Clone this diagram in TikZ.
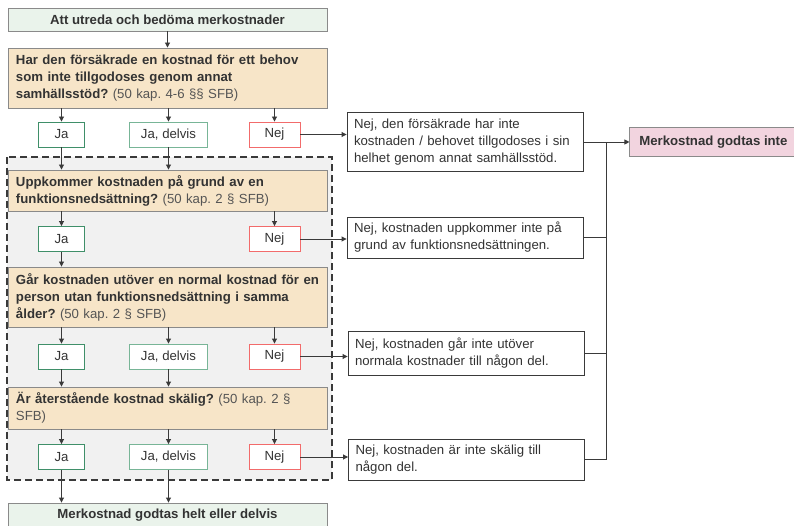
\documentclass[tikz,border=0pt]{standalone}
\usepackage{fontspec}
\setmainfont{Liberation Sans}
\usetikzlibrary{arrows.meta,positioning}

\definecolor{linegray}{HTML}{3A3A3A}
\definecolor{boxgray}{HTML}{8A8A8A}
\definecolor{txtgray}{HTML}{333333}
\definecolor{refgray}{HTML}{555555}
\definecolor{headgreen}{HTML}{EAF3EB}
\definecolor{askfill}{HTML}{F7E5C8}
\definecolor{jagreen}{HTML}{3F8F69}
\definecolor{delgreen}{HTML}{78B597}
\definecolor{nejred}{HTML}{F26B6B}
\definecolor{areagray}{HTML}{F1F1F1}
\definecolor{nopink}{HTML}{F2D4DF}

\frenchspacing
\newcommand{\boxfont}{\fontsize{13.2}{17}\selectfont}
\newcommand{\lagref}[1]{{\mdseries\color{refgray}#1}}

\begin{document}
\begin{tikzpicture}[
    x = 1pt, y = -1pt, % pixel grid, y goes down
    > = {Triangle[length=5pt,width=5pt]}, % arrow head style
    semithick % line style
    ]

    \tikzset{
    base/.style = {draw=boxgray, line width=0.9pt, inner sep=0pt, text=txtgray, font=\boxfont},
    headbox/.style = {base, fill=headgreen, minimum width=319pt, minimum height=23pt, font=\boxfont\bfseries},
    askbox/.style = {base, fill=askfill, text width=303pt, inner xsep=8pt, align=left, font=\boxfont\bfseries},
    jabox/.style = {base, draw=jagreen, fill=white, minimum width=46pt, minimum height=25pt},
    delbox/.style = {base, draw=delgreen, fill=white, minimum width=78pt, minimum height=25pt},
    nejbox/.style = {base, draw=nejred, fill=white, minimum width=51pt, minimum height=25pt},
    infobox/.style = {base, draw=linegray, fill=white, text width=222pt, inner xsep=7pt, align=left},
    stopbox/.style = {base, fill=nopink, minimum width=167pt, minimum height=29pt, font=\boxfont\bfseries},
    arr/.style = {->, draw=linegray, line width=0.9pt}
    }
    \useasboundingbox (0,0) rectangle (794,526);

    % area of the follow-up questions
    \draw[dash pattern=on 7pt off 4pt, line width=1.4pt, draw=linegray, fill=areagray] (7,157) rectangle (332,480);

    \node[headbox] (start) at (167.5,19.5) {Att utreda och bedöma merkostnader};
    \node[askbox, minimum height=60pt] (q1) at (167.5,78) {Har den försäkrade en kostnad för ett behov\\som inte tillgodoses genom annat\\samhällsstöd? \lagref{(50 kap. 4-6 §§ SFB)}};
    \node[jabox] (ja1) at (61.5,134.5) {Ja};
    \node[delbox] (del1) at (168.5,134.5) {Ja, delvis};
    \node[nejbox] (nej1) at (274.5,134.5) {Nej};

    \node[askbox, minimum height=41pt] (q2) at (167.5,190.5) {Uppkommer kostnaden på grund av en\\funktionsnedsättning? \lagref{(50 kap. 2 § SFB)}};
    \node[jabox] (ja2) at (61.5,239) {Ja};
    \node[nejbox] (nej2) at (274.5,239) {Nej};

    \node[askbox, minimum height=60pt] (q3) at (167.5,297) {Går kostnaden utöver en normal kostnad för en\\person utan funktionsnedsättning i samma\\ålder? \lagref{(50 kap. 2 § SFB)}};
    \node[jabox] (ja3) at (61.5,356.5) {Ja};
    \node[delbox] (del3) at (168.5,356.5) {Ja, delvis};
    \node[nejbox] (nej3) at (274.5,356.5) {Nej};

    \node[askbox, minimum height=42pt] (q4) at (167.5,408) {Är återstående kostnad skälig? \lagref{(50 kap. 2 §\\SFB)}};
    \node[jabox] (ja4) at (61.5,457) {Ja};
    \node[delbox] (del4) at (168.5,457) {Ja, delvis};
    \node[nejbox] (nej4) at (274.5,457) {Nej};

    \node[headbox, minimum height=25pt] (done) at (167.5,515.5) {Merkostnad godtas helt eller delvis};

    % answers "Nej"
    \node[infobox, minimum height=59pt] (n1) at (465,142) {Nej, den försäkrade har inte\\kostnaden / behovet tillgodoses i sin\\helhet genom annat samhällsstöd.};
    \node[infobox, minimum height=41pt] (n2) at (465,237.5) {Nej, kostnaden uppkommer inte på\\grund av funktionsnedsättningen.};
    \node[infobox, minimum height=44pt] (n3) at (466,353) {Nej, kostnaden går inte utöver\\normala kostnader till någon del.};
    \node[infobox, minimum height=41pt] (n4) at (466.5,459.5) {Nej, kostnaden är inte skälig till\\någon del.};
    \node[stopbox, right=46pt of n1] (stop) {Merkostnad godtas inte};
    \coordinate[right=23pt of n1.east] (bus);

    \draw[arr] (start) -- (q1);
    \draw[arr] (ja1 |- q1.south) -- (ja1);
    \draw[arr] (del1 |- q1.south) -- (del1);
    \draw[arr] (nej1 |- q1.south) -- (nej1);
    \draw[arr] (ja1) -- (ja1 |- q2.north);
    \draw[arr] (del1) -- (del1 |- q2.north);
    \draw[arr] (nej1) -- (nej1 -| n1.west);

    \draw[arr] (ja2 |- q2.south) -- (ja2);
    \draw[arr] (nej2 |- q2.south) -- (nej2);
    \draw[arr] (ja2) -- (ja2 |- q3.north);
    \draw[arr] (nej2) -- (nej2 -| n2.west);

    \draw[arr] (ja3 |- q3.south) -- (ja3);
    \draw[arr] (del3 |- q3.south) -- (del3);
    \draw[arr] (nej3 |- q3.south) -- (nej3);
    \draw[arr] (ja3) -- (ja3 |- q4.north);
    \draw[arr] (del3) -- (del3 |- q4.north);
    \draw[arr] (nej3) -- (nej3 -| n3.west);

    \draw[arr] (ja4 |- q4.south) -- (ja4);
    \draw[arr] (del4 |- q4.south) -- (del4);
    \draw[arr] (nej4 |- q4.south) -- (nej4);
    \draw[arr] (ja4) -- (ja4 |- done.north);
    \draw[arr] (del4) -- (del4 |- done.north);
    \draw[arr] (nej4) -- (nej4 -| n4.west);

    \draw[arr] (n1) -- (stop);
    \draw[linegray, line width=0.9pt] (n2) -| (bus);
    \draw[linegray, line width=0.9pt] (n3) -| (bus);
    \draw[linegray, line width=0.9pt] (n4) -| (bus);
\end{tikzpicture}
\end{document}
